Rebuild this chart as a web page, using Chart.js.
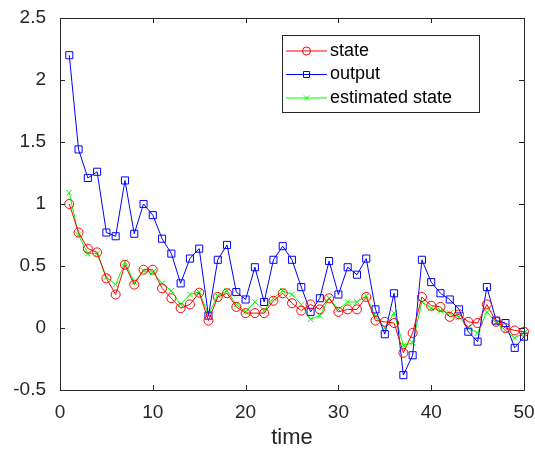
<!DOCTYPE html>
<html>
<head>
<meta charset="utf-8">
<script src="https://cdn.jsdelivr.net/npm/chart.js@4/dist/chart.umd.min.js"></script>
<style>
html,body{margin:0;padding:0;background:#fff;}
#wrap{width:535px;height:453px;position:relative;}
</style>
</head>
<body>
<div id="wrap"><canvas id="c" width="535" height="453"></canvas></div>
<script>
const timeSteps = [1,2,3,4,5,6,7,8,9,10,11,12,13,14,15,16,17,18,19,20,21,22,23,24,25,26,27,28,29,30,31,32,33,34,35,36,37,38,39,40,41,42,43,44,45,46,47,48,49,50];
const stateValues = [1.00,0.77,0.64,0.61,0.40,0.27,0.51,0.35,0.47,0.47,0.32,0.24,0.16,0.19,0.285,0.06,0.25,0.28,0.17,0.12,0.12,0.12,0.22,0.28,0.20,0.14,0.19,0.15,0.24,0.13,0.15,0.15,0.25,0.06,0.05,0.04,-0.20,-0.04,0.25,0.18,0.17,0.09,0.11,0.05,0.04,0.19,0.05,0.00,-0.02,-0.03];
const outputValues = [2.20,1.44,1.21,1.26,0.77,0.74,1.19,0.76,1.00,0.91,0.72,0.60,0.36,0.56,0.64,0.10,0.55,0.67,0.29,0.23,0.49,0.21,0.55,0.66,0.55,0.33,0.13,0.24,0.54,0.27,0.49,0.43,0.56,0.15,-0.05,0.28,-0.38,-0.22,0.55,0.37,0.28,0.23,0.15,-0.03,-0.11,0.33,0.06,0.04,-0.16,-0.07];
const estimatedValues = [1.09,0.75,0.60,0.60,0.41,0.35,0.53,0.37,0.46,0.45,0.36,0.30,0.19,0.27,0.29,0.11,0.26,0.30,0.19,0.13,0.21,0.14,0.24,0.30,0.27,0.19,0.07,0.10,0.24,0.15,0.21,0.21,0.26,0.09,0.00,0.12,-0.14,-0.12,0.21,0.16,0.14,0.12,0.09,0.00,-0.04,0.13,0.04,-0.02,-0.08,-0.04];
const xTicks = [0,10,20,30,40,50];
const yTicks = [-0.5,0,0.5,1,1.5,2,2.5];
const seriesNames = ['state','output','estimated state'];

const AXIS = '#262626';
const FONT = '"Liberation Sans", Arial, Helvetica, sans-serif';

function pts(vals){ return vals.map((v,i)=>({x: timeSteps[i], y: v})); }

const frameTicks = {
  id: 'frameTicks',
  afterDraw(chart){
    const ctx = chart.ctx;
    const a = chart.chartArea;
    const xs = chart.scales.x, ys = chart.scales.y;
    ctx.save();
    ctx.strokeStyle = AXIS;
    ctx.lineWidth = 1;
    ctx.beginPath();
    ctx.rect(Math.round(a.left)+0.5, Math.round(a.top)+0.5, Math.round(a.right-a.left), Math.round(a.bottom-a.top));
    ctx.stroke();
    const L = 5;
    ctx.beginPath();
    xTicks.forEach(v=>{
      const px = Math.round(xs.getPixelForValue(v))+0.5;
      ctx.moveTo(px, a.bottom); ctx.lineTo(px, a.bottom-L);
      ctx.moveTo(px, a.top); ctx.lineTo(px, a.top+L);
    });
    yTicks.forEach(v=>{
      const py = Math.round(ys.getPixelForValue(v))+0.5;
      ctx.moveTo(a.left, py); ctx.lineTo(a.left+L, py);
      ctx.moveTo(a.right, py); ctx.lineTo(a.right-L, py);
    });
    ctx.stroke();

    // legend box
    const bx = 282, by = 35, bw = 197, bh = 77;
    ctx.fillStyle = '#fff';
    ctx.fillRect(bx, by, bw, bh);
    ctx.strokeStyle = AXIS;
    ctx.strokeRect(bx+0.5, by+0.5, bw, bh);
    const rows = [51, 74.5, 98];
    chart.data.datasets.forEach((ds, i)=>{
      const yy = rows[i];
      ctx.strokeStyle = ds.borderColor;
      ctx.lineWidth = 1;
      ctx.beginPath();
      ctx.moveTo(286, yy); ctx.lineTo(327, yy);
      ctx.stroke();
      ctx.beginPath();
      if (ds.pointStyle==='circle'){ ctx.arc(306.5, yy, 4, 0, Math.PI*2); }
      else if (ds.pointStyle==='rect'){ ctx.rect(306.5-3, yy-3, 6, 6); }
      else { ctx.moveTo(304,yy-2.5); ctx.lineTo(309,yy+2.5); ctx.moveTo(309,yy-2.5); ctx.lineTo(304,yy+2.5); }
      ctx.stroke();
      ctx.fillStyle = '#000';
      ctx.font = '18px ' + FONT;
      ctx.textBaseline = 'middle';
      ctx.textAlign = 'left';
      ctx.fillText(seriesNames[i], 330, yy);
    });
    ctx.restore();
  }
};

new Chart(document.getElementById('c'), {
  type: 'line',
  data: {
    datasets: [
      {label: seriesNames[0], data: pts(stateValues), borderColor: '#ff0000', backgroundColor: 'rgba(0,0,0,0)',
       pointStyle: 'circle', pointRadius: 4.5, pointBorderWidth: 1, pointBackgroundColor: 'rgba(0,0,0,0)', borderWidth: 1, clip: false},
      {label: seriesNames[1], data: pts(outputValues), borderColor: '#0000ff', backgroundColor: 'rgba(0,0,0,0)',
       pointStyle: 'rect', pointRadius: 5, pointBorderWidth: 1, pointBackgroundColor: 'rgba(0,0,0,0)', borderWidth: 1, clip: false},
      {label: seriesNames[2], data: pts(estimatedValues), borderColor: '#00ff00', backgroundColor: 'rgba(0,0,0,0)',
       pointStyle: 'crossRot', pointRadius: 4, pointBorderWidth: 1, pointBackgroundColor: 'rgba(0,0,0,0)', borderWidth: 1, clip: false}
    ]
  },
  options: {
    responsive: false,
    animation: false,
    devicePixelRatio: 1,
    layout: {padding: {left: 0, right: 11, top: 18, bottom: 0}},
    plugins: {legend: {display: false}, tooltip: {enabled: false}},
    elements: {line: {tension: 0}},
    scales: {
      x: {
        type: 'linear', min: 0, max: 50,
        afterBuildTicks(s){ s.ticks = xTicks.map(v=>({value:v})); },
        afterFit(s){ s.height = 63; s.paddingLeft = 0; s.paddingRight = 0; },
        grid: {display: false, drawTicks: false},
        border: {display: false},
        ticks: {color: AXIS, font: {family: FONT, size: 19}, padding: 11, maxRotation: 0,
                callback: v => String(v)},
        title: {display: true, text: 'time', color: AXIS, font: {family: FONT, size: 22}, padding: {top: 0, bottom: 2}}
      },
      y: {
        type: 'linear', min: -0.5, max: 2.5,
        afterBuildTicks(s){ s.ticks = yTicks.map(v=>({value:v})); },
        afterFit(s){ s.width = 60; s.paddingTop = 0; s.paddingBottom = 0; },
        grid: {display: false, drawTicks: false},
        border: {display: false},
        ticks: {color: AXIS, font: {family: FONT, size: 19}, padding: 14,
                callback: v => String(v)}
      }
    }
  },
  plugins: [frameTicks]
});
</script>
</body>
</html>
